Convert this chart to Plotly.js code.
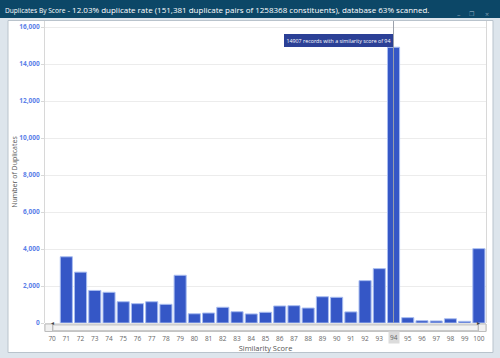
<!DOCTYPE html>
<html><head><meta charset="utf-8">
<script src="https://cdn.plot.ly/plotly-3.0.1.min.js"></script>
<style>html,body{margin:0;padding:0;background:#dde5ec;}#chart{width:500px;height:358px;}</style>
</head><body><div id="chart"></div>
<script>
// ---- data ----
const categories = ["70","71","72","73","74","75","76","77","78","79","80","81","82","83","84","85","86","87","88","89","90","91","92","93","94","95","96","97","98","99","100"];
const duplicates = [0,3580,2750,1760,1660,1150,1045,1150,1010,2580,500,540,850,610,490,580,920,935,810,1420,1390,600,2290,2940,14907,290,125,110,230,90,4020];
const yTickVals = [0,2000,4000,6000,8000,10000,12000,14000,16000];
const yTickText = ["0","2,000","4,000","6,000","8,000","10,000","12,000","14,000","16,000"];
const highlighted = "94";
const titleSmall = "Duplicates By Score";
const titleMain = " - 12.03% duplicate rate (151,381 duplicate pairs of 1258368 constituents), database 63% scanned.";

// ---- geometry helpers (pixel -> paper) ----
const W = 500, H = 358;
const L = 45, R = 486, T = 21, B = 323;
const pw = R - L, ph = B - T;
const px = v => (v - L) / pw;
const py = v => (B - v) / ph;
const FONT = "Open Sans, DejaVu Sans, sans-serif";

const hiIdx = categories.indexOf(highlighted);
const hiVal = duplicates[hiIdx];

const trace = {
  type: 'bar',
  x: categories,
  y: duplicates,
  marker: {color: '#3557c6', line: {color: '#a9bdf0', width: duplicates.map(v => v > 0 ? 1 : 0)}},
  hoverinfo: 'skip'
};

const shapes = [
  // title bar
  {type:'rect', xref:'paper', yref:'paper', x0:px(0), x1:px(W), y0:py(0), y1:py(18), fillcolor:'#0c4767', line:{width:0}, layer:'below'},
  // white panel
  {type:'rect', xref:'paper', yref:'paper', x0:px(8), x1:px(493), y0:py(20.5), y1:py(352.5), fillcolor:'#ffffff', line:{color:'#b9c3cc', width:1}, layer:'below'},
  // crosshair
  {type:'line', xref:'x', yref:'paper', x0:hiIdx, x1:hiIdx, y0:0, y1:1, line:{color:'#9aa0aa', width:1}, layer:'above'},
  // scrollbar track
  {type:'rect', xref:'paper', yref:'paper', x0:px(45), x1:px(486), y0:py(324), y1:py(331.5), fillcolor:'#e6e6e6', line:{color:'#c4c4c4', width:1}},
  {type:'rect', xref:'paper', yref:'paper', x0:px(53), x1:px(478), y0:py(325), y1:py(330.5), fillcolor:'#f3f3f3', line:{color:'#c8c8c8', width:1}},
  {type:'rect', xref:'paper', yref:'paper', x0:px(45), x1:px(52.5), y0:py(324), y1:py(331.5), fillcolor:'#f0f0f0', line:{color:'#bdbdbd', width:1}},
  {type:'rect', xref:'paper', yref:'paper', x0:px(478.5), x1:px(486), y0:py(324), y1:py(331.5), fillcolor:'#f0f0f0', line:{color:'#bdbdbd', width:1}}
];

const annotations = [
  {xref:'paper', yref:'paper', x:px(3), y:py(9.5), xanchor:'left', yanchor:'middle', showarrow:false,
   text:'<span style="font-size:6.6px">'+titleSmall+'</span>'+titleMain,
   font:{family:FONT, size:8.0, color:'#ffffff'}},
  {xref:'paper', yref:'paper', x:px(462), y:py(9), showarrow:false, borderpad:0, text:'–', font:{family:FONT, size:7, color:'#7f9cb1'}},
  {xref:'paper', yref:'paper', x:px(476), y:py(9), showarrow:false, borderpad:0, text:'❐', font:{family:'DejaVu Sans', size:6, color:'#7f9cb1'}},
  {xref:'paper', yref:'paper', x:px(490), y:py(9), showarrow:false, borderpad:0, text:'×', font:{family:FONT, size:7, color:'#7f9cb1'}},
  // tooltip
  {xref:'x', yref:'y', x:hiIdx, y:hiVal, xanchor:'right', yanchor:'bottom', xshift:-1, showarrow:false,
   text: hiVal + ' records with a similarity score of ' + highlighted,
   bgcolor:'#2b4096', bordercolor:'#2b4096', borderpad:1.5, font:{family:FONT, size:5.3, color:'#ffffff'}},
  // highlighted tick label
  {xref:'x', yref:'paper', x:hiIdx, y:py(337.5), yanchor:'middle', showarrow:false, text:highlighted,
   bgcolor:'#dcdcdc', borderpad:1, font:{family:FONT, size:6.5, color:'#666666'}},
  // scrollbar arrows
  {xref:'paper', yref:'paper', x:px(48.8), y:py(327.8), showarrow:false, text:'◂', font:{family:'DejaVu Sans', size:6, color:'#444'}},
  {xref:'paper', yref:'paper', x:px(482.3), y:py(327.8), showarrow:false, text:'▸', font:{family:'DejaVu Sans', size:6, color:'#444'}}
];

const layout = {
  width: W, height: H,
  margin: {l: L, r: W - R, t: T, b: H - B, pad: 0},
  paper_bgcolor: '#dde5ec',
  plot_bgcolor: 'rgba(0,0,0,0)',
  showlegend: false,
  bargap: 0.15,
  xaxis: {
    type: 'category',
    range: [-0.5, categories.length - 0.5],
    tickvals: categories,
    ticktext: categories.map(c => c === highlighted ? '' : c),
    tickfont: {family: FONT, size: 6.5, color: '#666666'},
    ticks: 'outside', ticklen: 9, tickcolor: 'rgba(0,0,0,0)',
    showgrid: false, zeroline: false, showline: false,
    title: {text: 'Similarity Score', font: {family: FONT, size: 7.5, color: '#555555'}, standoff: 0}
  },
  yaxis: {
    range: [0, 16000 * ph / 296],
    tickvals: yTickVals, ticktext: yTickText,
    tickfont: {family: FONT, size: 6.5, color: '#5b80e8', weight: 'bold'},
    ticks: 'outside', ticklen: 3, tickcolor: '#d8d8d8',
    showgrid: true, gridcolor: '#ececec', gridwidth: 1,
    zeroline: false,
    showline: true, mirror: true, linecolor: '#d8d8d8', linewidth: 1,
    title: {text: 'Number of Duplicates', font: {family: FONT, size: 7, color: '#555555'}, standoff: 0}
  },
  shapes: shapes,
  annotations: annotations
};

Plotly.newPlot('chart', [trace], layout, {displayModeBar: false, staticPlot: true});
</script></body></html>
